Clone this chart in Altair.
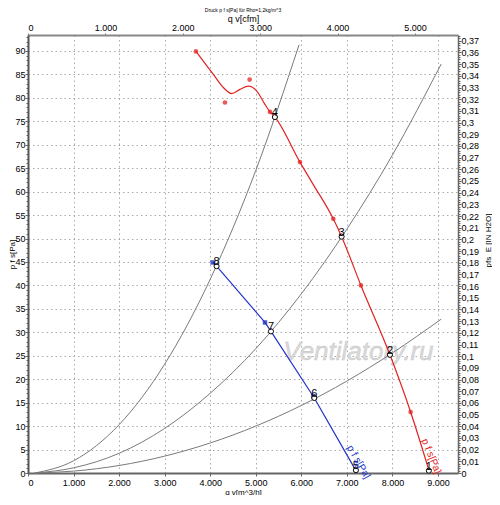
import altair as alt
import pandas as pd

FONT = "Liberation Sans"

# ---- data ----
# system curves (gray), q in m^3/h, p in Pa
sysA_q = [150, 1000, 2000, 3000, 4000, 5000, 5950]
sysA_p = [0.0, 2.6, 10.3, 23.2, 41.3, 64.5, 91.3]
sysB_q = [150, 1000, 2000, 3000, 4000, 5000, 6000, 7000, 8000, 9070]
sysB_p = [0.0, 1.1, 4.2, 9.5, 17.0, 26.5, 38.2, 52.0, 67.8, 87.2]
sysC_q = [150, 1000, 2000, 3000, 4000, 5000, 6000, 7000, 8000, 9070]
sysC_p = [0.0, 0.4, 1.6, 3.6, 6.4, 10.0, 14.4, 19.6, 25.6, 32.8]

# red fan curve (fitted line) and measured points
red_line_q = [3687, 4068, 4288, 4470, 4653, 4837, 5019, 5202, 5312, 5421, 5970, 6263, 6702, 6885, 7309, 7946, 8400, 8810]
red_line_p = [89.9, 85.0, 82.2, 80.9, 81.8, 82.5, 81.5, 78.6, 77.0, 75.9, 66.3, 61.5, 54.2, 50.4, 40.0, 25.2, 13.0, 0.3]
red_pts_q = [3687, 4324, 4866, 5312, 5970, 6702, 7309, 8400]
red_pts_p = [89.9, 79.0, 83.9, 77.0, 66.3, 54.2, 40.0, 13.0]

# blue fan curve and measured points
blue_line_q = [4053, 4140, 5202, 5334, 6285, 7199]
blue_line_p = [44.9, 44.1, 32.1, 30.2, 16.0, 0.5]
blue_pts_q = [4053, 5202, 6263]
blue_pts_p = [44.9, 32.1, 16.4]

# operating points
op_id = ["1", "2", "3", "4", "5", "6", "7", "8"]
op_q = [8800, 7946, 6885, 5421, 7199, 6285, 5334, 4140]
op_p = [0.5, 25.2, 50.4, 75.9, 0.6, 16.0, 30.2, 44.1]

# curve labels
red_lab = ["p f s[Pa]"]
red_lab_q = [8600]
red_lab_p = [6.8]
blue_lab = ["p f s[Pa]"]
blue_lab_q = [6960]
blue_lab_p = [5.2]

# watermark
wm_text = ["Ventilatory.ru"]
wm_q = [7254]
wm_p = [25.7]

# axes
Q_MAX = 9440.0          # m^3/h
P_MAX = 93.4            # Pa
CFM_PER_M3H = 1 / 1.69901
INH2O_PER_PA = 1 / 249.089
x_ticks = list(range(0, 9001, 1000))
cfm_ticks = list(range(0, 5001, 1000))
pa_ticks = list(range(0, 94))
inh2o_ticks = [round(i * 0.002, 3) for i in range(0, 188)]

RED = "#e32222"
BLUE = "#2233cc"
GRAY = "#7a7a7a"

# ---- encodings shared by all main layers ----
x_axis = alt.Axis(
    orient="bottom", values=x_ticks, format=",.0f",
    labelExpr="replace(datum.label, ',', '.')",
    title="q v[m^3/h]", titleFont=FONT, titleFontSize=8, titleFontWeight="normal",
    titleColor="#000", titlePadding=1,
    labelFont=FONT, labelFontSize=9, labelColor="#000", labelPadding=2,
    tickSize=3, tickColor="#666",
    domainColor="#666", domainWidth=2,
    grid=True, gridDash=[1.5, 3], gridColor="#aaaaaa", gridWidth=1,
)
y_axis = alt.Axis(
    orient="left", values=pa_ticks,
    labelExpr="datum.value % 5 === 0 ? datum.label : ''",
    title="p f s[Pa]", titleFont=FONT, titleFontSize=8, titleFontWeight="normal",
    titleColor="#000", titleX=-12,
    labelFont=FONT, labelFontSize=9, labelColor="#000", labelPadding=0,
    tickSize={"condition": {"test": "datum.value % 5 === 0", "value": 3}, "value": 2},
    tickColor="#666",
    domainColor="#555", domainWidth=2,
    grid=True, gridDash=[1.5, 3], gridColor="#aaaaaa", gridWidth=1,
    gridOpacity={"condition": {"test": "datum.value % 5 === 0 && datum.value > 0", "value": 1}, "value": 0},
)


def X():
    return alt.X("q:Q", scale=alt.Scale(domain=[0, Q_MAX], nice=False, zero=False), axis=x_axis)


def Y():
    return alt.Y("p:Q", scale=alt.Scale(domain=[0, P_MAX], nice=False, zero=False), axis=y_axis)


sys_df = pd.concat([
    pd.DataFrame({"q": sysA_q, "p": sysA_p, "c": "A"}),
    pd.DataFrame({"q": sysB_q, "p": sysB_p, "c": "B"}),
    pd.DataFrame({"q": sysC_q, "p": sysC_p, "c": "C"}),
])

watermark = alt.Chart(pd.DataFrame({"q": wm_q, "p": wm_p, "t": wm_text})).mark_text(
    font=FONT, fontSize=26, fontStyle="italic", color="#dadada",
    stroke="#c4c4c4", strokeWidth=0.4, align="center", baseline="middle",
).encode(x=X(), y=Y(), text="t:N")

sys_lines = alt.Chart(sys_df).mark_line(color=GRAY, strokeWidth=1, interpolate="monotone").encode(
    x=X(), y=Y(), detail="c:N")

red_line = alt.Chart(pd.DataFrame({"q": red_line_q, "p": red_line_p})).mark_line(
    color=RED, strokeWidth=1.2, interpolate="monotone").encode(x=X(), y=Y())
red_pts = alt.Chart(pd.DataFrame({"q": red_pts_q, "p": red_pts_p})).mark_point(
    shape="circle", filled=True, color=RED, size=22, opacity=0.75).encode(x=X(), y=Y())

blue_line = alt.Chart(pd.DataFrame({"q": blue_line_q, "p": blue_line_p})).mark_line(
    color=BLUE, strokeWidth=1.2).encode(x=X(), y=Y())
blue_pts = alt.Chart(pd.DataFrame({"q": blue_pts_q, "p": blue_pts_p})).mark_point(
    shape="square", filled=True, color=BLUE, size=20, opacity=0.8).encode(x=X(), y=Y())

op_df = pd.DataFrame({"q": op_q, "p": op_p, "id": op_id})
op_circ = alt.Chart(op_df).mark_point(
    shape="circle", filled=True, fill="white", stroke="#000", strokeWidth=1, size=26, opacity=1
).encode(x=X(), y=Y())
op_text = alt.Chart(op_df).mark_text(
    font=FONT, fontSize=11, color="#000", align="center", baseline="alphabetic", dy=-1
).encode(x=X(), y=Y(), text="id:N")

red_txt = alt.Chart(pd.DataFrame({"q": red_lab_q, "p": red_lab_p, "t": red_lab})).mark_text(
    font=FONT, fontSize=10, color=RED, angle=68, align="left", baseline="bottom"
).encode(x=X(), y=Y(), text="t:N")
blue_txt = alt.Chart(pd.DataFrame({"q": blue_lab_q, "p": blue_lab_p, "t": blue_lab})).mark_text(
    font=FONT, fontSize=10, color=BLUE, angle=60, align="left", baseline="bottom"
).encode(x=X(), y=Y(), text="t:N")

main = alt.layer(watermark, sys_lines, red_line, blue_line, red_pts, blue_pts,
                 op_circ, op_text, red_txt, blue_txt)

# ---- secondary axes (cfm on top, inH2O on right) ----
aux_df = pd.DataFrame({"cfm": [0.0, Q_MAX * CFM_PER_M3H], "inh2o": [0.0, P_MAX * INH2O_PER_PA]})
aux = alt.Chart(aux_df).mark_point(opacity=0).encode(
    x=alt.X("cfm:Q", scale=alt.Scale(domain=[0, Q_MAX * CFM_PER_M3H], nice=False, zero=False),
            axis=alt.Axis(orient="top", values=cfm_ticks, format=",.0f",
                          labelExpr="replace(datum.label, ',', '.')",
                          title="q v[cfm]", titleFont=FONT, titleFontSize=9, titleFontWeight="normal",
                          titleColor="#000", titlePadding=0,
                          labelFont=FONT, labelFontSize=9, labelColor="#000", labelPadding=1,
                          tickSize=2, tickColor="#777", domainColor="#888", domainWidth=2, grid=False)),
    y=alt.Y("inh2o:Q", scale=alt.Scale(domain=[0, P_MAX * INH2O_PER_PA], nice=False, zero=False),
            axis=alt.Axis(orient="right", values=inh2o_ticks, format=".2~f",
                          labelExpr="abs(datum.value*100 - round(datum.value*100)) < 0.001 ? replace(datum.label, '.', ',') : ''",
                          title="pfs_E [IN H2O]", titleFont=FONT, titleFontSize=8, titleFontWeight="normal",
                          titleColor="#000", titleAngle=270, titleX=34, titleY=205,
                          labelFont=FONT, labelFontSize=9, labelColor="#000", labelPadding=0,
                          tickSize={"condition": {"test": "abs(datum.value*100 - round(datum.value*100)) < 0.001", "value": 3}, "value": 2},
                          tickColor="#666", domainColor="#666", domainWidth=1.5, grid=False)),
)

chart = alt.layer(main, aux).resolve_scale(x="independent", y="independent").properties(
    width=430, height=438,
    autosize=alt.AutoSizeParams(type="none"),
    padding={"left": 20, "top": 27, "right": 34, "bottom": 22},
    title=alt.TitleParams(text="Druck p f s[Pa] für Rho=1,2kg/m^3", font=FONT, fontSize=5,
                          fontWeight="normal", color="#000", anchor="middle", offset=1),
    background="white",
).configure_view(stroke=None)

chart.save("out.html", embed_options={"renderer": "svg", "actions": False})
